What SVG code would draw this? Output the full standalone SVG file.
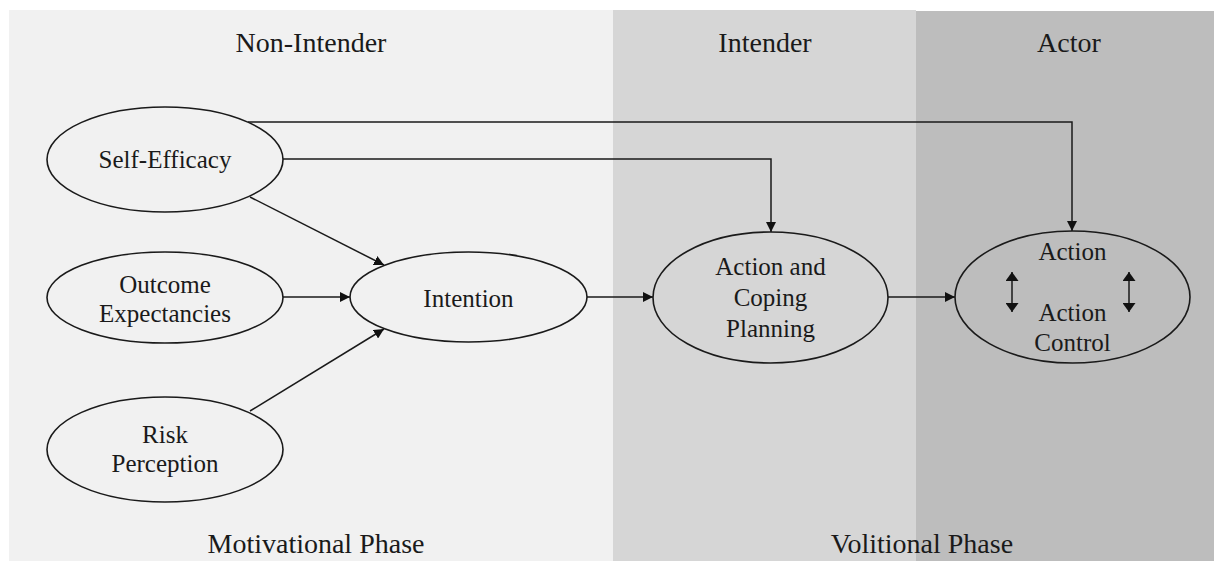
<svg xmlns="http://www.w3.org/2000/svg" width="1214" height="561" viewBox="0 0 1214 561">
<defs>
<style>
text{font-family:'Liberation Serif','Times New Roman',Times,serif;fill:#1a1a1a;text-anchor:middle}
.h{font-size:28px}
.n{font-size:25px}
.e{fill:none;stroke:#1a1a1a;stroke-width:1.6}
.c{fill:none;stroke:#1a1a1a;stroke-width:1.5}
</style>
<marker id="ah" viewBox="0 0 10 10" refX="10" refY="5" markerWidth="10" markerHeight="10" markerUnits="userSpaceOnUse" orient="auto-start-reverse">
<path d="M0,0 L10,5 L0,10 z" fill="#111"/>
</marker>
<marker id="ds" viewBox="0 0 10 10" refX="10" refY="5" markerWidth="9" markerHeight="13" markerUnits="userSpaceOnUse" orient="auto-start-reverse" preserveAspectRatio="none">
<path d="M0,0 L10,5 L0,10 z" fill="#111"/>
</marker>
</defs>
<rect width="1214" height="561" fill="#ffffff"/>
<g id="panels">
<rect x="9" y="10" width="604" height="551" fill="#f1f1f1"/>
<rect x="613" y="10" width="303" height="551" fill="#d6d6d6"/>
<rect x="916" y="11" width="298" height="550" fill="#bdbdbd"/>
</g>
<g id="labels">
<text class="h" x="311" y="52">Non-Intender</text>
<text class="h" x="765" y="52">Intender</text>
<text class="h" x="1069" y="52">Actor</text>
<text class="h" x="316" y="553">Motivational Phase</text>
<text class="h" x="922" y="553">Volitional Phase</text>
</g>
<g id="connectors">
<polyline class="c" points="248,122 1072,122 1072,231" marker-end="url(#ah)"/>
<polyline class="c" points="283,159 771,159 771,232" marker-end="url(#ah)"/>
<line class="c" x1="250" y1="197" x2="384" y2="265" marker-end="url(#ah)"/>
<line class="c" x1="283" y1="297" x2="350" y2="297" marker-end="url(#ah)"/>
<line class="c" x1="250" y1="411" x2="384" y2="329" marker-end="url(#ah)"/>
<line class="c" x1="587" y1="297" x2="653" y2="297" marker-end="url(#ah)"/>
<line class="c" x1="888" y1="297" x2="955" y2="297" marker-end="url(#ah)"/>
</g>
<g id="self-efficacy">
<ellipse class="e" cx="165" cy="159.5" rx="118" ry="52.5"/>
<text class="n" x="165" y="168">Self-Efficacy</text>
</g>
<g id="outcome-expectancies">
<ellipse class="e" cx="165" cy="297.5" rx="118" ry="45.5"/>
<text class="n" x="165" y="293">Outcome</text>
<text class="n" x="165" y="322">Expectancies</text>
</g>
<g id="risk-perception">
<ellipse class="e" cx="165" cy="449.5" rx="118" ry="52.5"/>
<text class="n" x="165" y="443">Risk</text>
<text class="n" x="165" y="472">Perception</text>
</g>
<g id="intention">
<ellipse class="e" cx="468.5" cy="297" rx="118.5" ry="45"/>
<text class="n" x="468.5" y="307">Intention</text>
</g>
<g id="planning">
<ellipse class="e" cx="770.5" cy="297.5" rx="117.5" ry="65.5"/>
<text class="n" x="770.5" y="275">Action and</text>
<text class="n" x="770.5" y="306">Coping</text>
<text class="n" x="770.5" y="337">Planning</text>
</g>
<g id="action">
<ellipse class="e" cx="1072.5" cy="297" rx="117.5" ry="66"/>
<text class="n" x="1072.5" y="260">Action</text>
<text class="n" x="1072.5" y="321">Action</text>
<text class="n" x="1072.5" y="351">Control</text>
<line class="c" x1="1012" y1="272" x2="1012" y2="312" marker-start="url(#ds)" marker-end="url(#ds)" stroke-width="2"/>
<line class="c" x1="1129" y1="272" x2="1129" y2="312" marker-start="url(#ds)" marker-end="url(#ds)" stroke-width="2"/>
</g>
</svg>
